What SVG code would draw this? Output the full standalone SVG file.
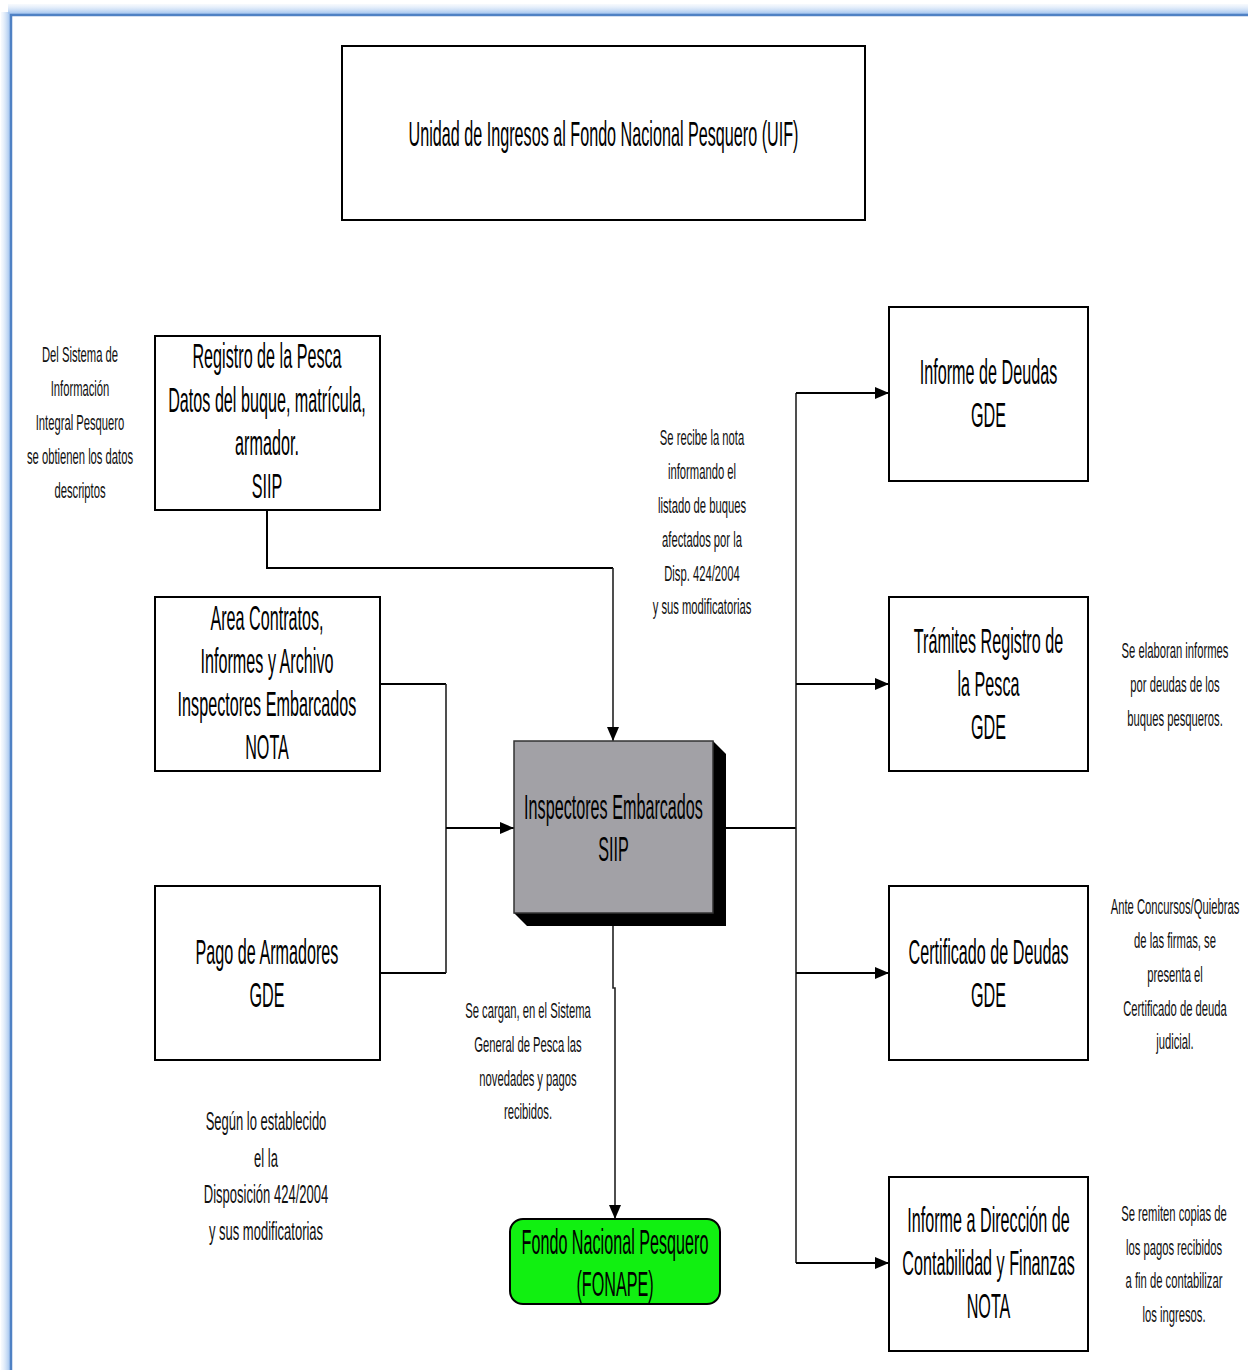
<svg xmlns="http://www.w3.org/2000/svg" width="1248" height="1370" viewBox="0 0 1248 1370">
<defs>
<style>
.box{fill:#fff;stroke:#000;stroke-width:2}
.t{font-family:"Liberation Sans",Arial,sans-serif;font-size:35px;fill:#000;text-anchor:middle}
.n{font-family:"Liberation Sans",Arial,sans-serif;font-size:22.5px;fill:#111;text-anchor:middle}
.c{fill:none;stroke:#000;stroke-width:2}
.cv{fill:none;stroke:#222;stroke-width:1.6}
</style>
<marker id="ah" viewBox="0 0 14 12" refX="14" refY="6" markerWidth="14" markerHeight="12" markerUnits="userSpaceOnUse" orient="auto">
<path d="M0,0 L14,6 L0,12 z" fill="#000"/>
</marker>
<linearGradient id="gt" x1="0" y1="0" x2="0" y2="1">
<stop offset="0" stop-color="#d8e6f8" stop-opacity="0.2"/>
<stop offset="1" stop-color="#9fc2ee"/>
</linearGradient>
<linearGradient id="gl" x1="0" y1="0" x2="1" y2="0">
<stop offset="0" stop-color="#d8e6f8" stop-opacity="0.2"/>
<stop offset="1" stop-color="#9fc2ee"/>
</linearGradient>
</defs>
<rect width="1248" height="1370" fill="#fff"/>
<g id="frame">
<rect x="8" y="4" width="1240" height="10" fill="url(#gt)"/>
<rect x="1" y="12" width="9" height="1358" fill="url(#gl)"/>
<path d="M11,1370 V15 H1248" fill="none" stroke="#4f81c4" stroke-width="2.5"/>
</g>
<g id="connectors">
<path class="c" d="M267,510 V568 H613"/>
<path class="cv" d="M613,568 V741" marker-end="url(#ah)"/>
<path class="c" d="M380,684 H446"/>
<path class="c" d="M380,973 H446"/>
<path class="cv" d="M446,684 V973"/>
<path class="c" d="M446,828 H514" marker-end="url(#ah)"/>
<path class="c" d="M726,828 H796"/>
<path class="cv" d="M796,393 V1263"/>
<path class="c" d="M796,393 H889" marker-end="url(#ah)"/>
<path class="c" d="M796,684 H889" marker-end="url(#ah)"/>
<path class="c" d="M796,973 H889" marker-end="url(#ah)"/>
<path class="c" d="M796,1263 H889" marker-end="url(#ah)"/>
<path class="cv" d="M613,926 V988 H615 V1219" marker-end="url(#ah)"/>
</g>
<g id="uif">
<rect class="box" x="342" y="46" width="523" height="174"/>
<g transform="translate(603.5 0) scale(0.462 1)"><text class="t" x="0" y="146">Unidad de Ingresos al Fondo Nacional Pesquero (UIF)</text></g>
</g>
<g id="registro">
<rect class="box" x="155" y="336" width="225" height="174"/>
<g transform="translate(267 0) scale(0.462 1)">
<text class="t" x="0" y="368">Registro de la Pesca</text>
<text class="t" x="0" y="412">Datos del buque, matrícula,</text>
<text class="t" x="0" y="455">armador.</text>
<text class="t" x="0" y="498">SIIP</text>
</g>
</g>
<g id="area">
<rect class="box" x="155" y="597" width="225" height="174"/>
<g transform="translate(267 0) scale(0.462 1)">
<text class="t" x="0" y="630">Area Contratos,</text>
<text class="t" x="0" y="673">Informes y Archivo</text>
<text class="t" x="0" y="716">Inspectores Embarcados</text>
<text class="t" x="0" y="759">NOTA</text>
</g>
</g>
<g id="pago">
<rect class="box" x="155" y="886" width="225" height="174"/>
<g transform="translate(267 0) scale(0.462 1)">
<text class="t" x="0" y="964">Pago de Armadores</text>
<text class="t" x="0" y="1007">GDE</text>
</g>
</g>
<g id="inspectores">
<path d="M713,741 L726,754 V926 H527 L514,913 z" fill="#000"/>
<rect x="514" y="741" width="199" height="172" fill="#a2a1a6" stroke="#333" stroke-width="1.5"/>
<g transform="translate(613.5 0) scale(0.462 1)">
<text class="t" x="0" y="819">Inspectores Embarcados</text>
<text class="t" x="0" y="861">SIIP</text>
</g>
</g>
<g id="fonape">
<rect x="510" y="1219" width="210" height="85" rx="13" fill="#11f011" stroke="#000" stroke-width="2"/>
<g transform="translate(615 0) scale(0.462 1)">
<text class="t" x="0" y="1254">Fondo Nacional Pesquero</text>
<text class="t" x="0" y="1296">(FONAPE)</text>
</g>
</g>
<g id="informe-deudas">
<rect class="box" x="889" y="307" width="199" height="174"/>
<g transform="translate(988.5 0) scale(0.462 1)">
<text class="t" x="0" y="384">Informe de Deudas</text>
<text class="t" x="0" y="427">GDE</text>
</g>
</g>
<g id="tramites">
<rect class="box" x="889" y="597" width="199" height="174"/>
<g transform="translate(988.5 0) scale(0.462 1)">
<text class="t" x="0" y="653">Trámites Registro de</text>
<text class="t" x="0" y="696">la Pesca</text>
<text class="t" x="0" y="739">GDE</text>
</g>
</g>
<g id="certificado">
<rect class="box" x="889" y="886" width="199" height="174"/>
<g transform="translate(988.5 0) scale(0.462 1)">
<text class="t" x="0" y="964">Certificado de Deudas</text>
<text class="t" x="0" y="1007">GDE</text>
</g>
</g>
<g id="informe-direccion">
<rect class="box" x="889" y="1177" width="199" height="174"/>
<g transform="translate(988.5 0) scale(0.462 1)">
<text class="t" x="0" y="1232">Informe a Dirección de</text>
<text class="t" x="0" y="1275">Contabilidad y Finanzas</text>
<text class="t" x="0" y="1318">NOTA</text>
</g>
</g>
<g id="notes">
<g transform="translate(80 0) scale(0.5 1)">
<text class="n" x="0" y="362">Del Sistema de</text>
<text class="n" x="0" y="396">Información</text>
<text class="n" x="0" y="430">Integral Pesquero</text>
<text class="n" x="0" y="464">se obtienen los datos</text>
<text class="n" x="0" y="498">descriptos</text>
</g>
<g transform="translate(702 0) scale(0.5 1)">
<text class="n" x="0" y="445">Se recibe la nota</text>
<text class="n" x="0" y="479">informando el</text>
<text class="n" x="0" y="513">listado de buques</text>
<text class="n" x="0" y="547">afectados por la</text>
<text class="n" x="0" y="581">Disp. 424/2004</text>
<text class="n" x="0" y="614">y sus modificatorias</text>
</g>
<g transform="translate(1175 0) scale(0.5 1)">
<text class="n" x="0" y="658">Se elaboran informes</text>
<text class="n" x="0" y="692">por deudas de los</text>
<text class="n" x="0" y="726">buques pesqueros.</text>
</g>
<g transform="translate(1175 0) scale(0.5 1)">
<text class="n" x="0" y="914">Ante Concursos/Quiebras</text>
<text class="n" x="0" y="948">de las firmas, se</text>
<text class="n" x="0" y="982">presenta el</text>
<text class="n" x="0" y="1016">Certificado de deuda</text>
<text class="n" x="0" y="1049">judicial.</text>
</g>
<g transform="translate(1174 0) scale(0.5 1)">
<text class="n" x="0" y="1221">Se remiten copias de</text>
<text class="n" x="0" y="1255">los pagos recibidos</text>
<text class="n" x="0" y="1288">a fin de contabilizar</text>
<text class="n" x="0" y="1322">los ingresos.</text>
</g>
<g transform="translate(528 0) scale(0.5 1)">
<text class="n" x="0" y="1018">Se cargan, en el Sistema</text>
<text class="n" x="0" y="1052">General de Pesca las</text>
<text class="n" x="0" y="1086">novedades y pagos</text>
<text class="n" x="0" y="1119">recibidos.</text>
</g>
<g transform="translate(266 0) scale(0.51 1)">
<text class="n" x="0" y="1130" style="font-size:25.5px">Según lo establecido</text>
<text class="n" x="0" y="1167" style="font-size:25.5px">el la</text>
<text class="n" x="0" y="1203" style="font-size:25.5px">Disposición 424/2004</text>
<text class="n" x="0" y="1240" style="font-size:25.5px">y sus modificatorias</text>
</g>
</g>
</svg>
